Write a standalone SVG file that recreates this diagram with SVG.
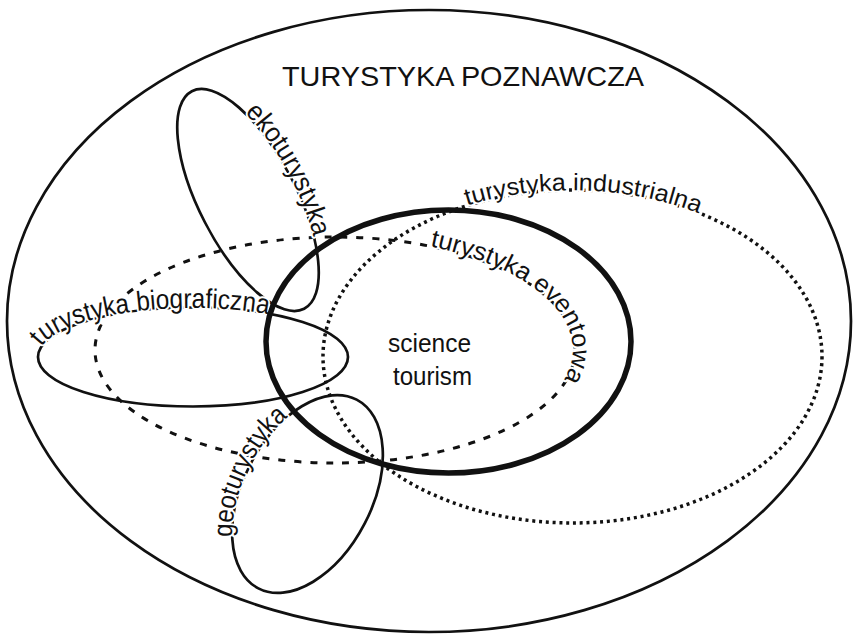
<svg xmlns="http://www.w3.org/2000/svg" xmlns:xlink="http://www.w3.org/1999/xlink" width="855" height="635" viewBox="0 0 855 635">
  <style>
    .ln { fill: none; stroke: #111; stroke-width: 2.7; }
    .thick { fill: none; stroke: #111; stroke-width: 5.5; }
    .dash { fill: none; stroke: #111; stroke-width: 3; stroke-dasharray: 7 9; }
    .dot { fill: none; stroke: #111; stroke-width: 3.5; stroke-dasharray: 3 3.8; }
    .lbl { font-family: "Liberation Sans", Arial, sans-serif; fill: #111; }
    .halo { stroke: #fff; stroke-width: 4; paint-order: stroke; stroke-linejoin: round; }
  </style>
  <defs>
    <path id="p-bio" d="M -151.61 -10.29 A 155 49.5 0 0 1 151.61 10.29 A 155 49.5 0 0 1 -151.61 -10.29"/>
    <path id="p-eko" d="M -78.68 -37.15 A 122.4 48.5 0 0 1 78.68 37.15 A 122.4 48.5 0 0 1 -78.68 -37.15"/>
    <path id="p-geo" d="M -72.56 -47.10 A 106.4 64.4 0 0 1 72.56 47.10 A 106.4 64.4 0 0 1 -72.56 -47.10"/>
    <path id="p-event" d="M 94.92 -103.78 A 240 113 0 0 1 -94.92 103.78 A 240 113 0 0 1 94.92 -103.78"/>
    <path id="p-ind" d="M -105.44 -150.90 A 249.5 166.5 0 0 1 105.44 150.90 A 249.5 166.5 0 0 1 -105.44 -150.90"/>
  </defs>
  <rect width="855" height="635" fill="#fff"/>

  <g id="poznawcza">
    <ellipse class="ln" cx="429" cy="321" rx="422" ry="311"/>
    <text class="lbl" x="282" y="86" font-size="28.5" textLength="362" lengthAdjust="spacingAndGlyphs">TURYSTYKA POZNAWCZA</text>
  </g>

  <g id="industrialna" transform="translate(572.5 356.5)">
    <ellipse class="dot" cx="0" cy="0" rx="249.5" ry="166.5"/>
    <text class="lbl halo" font-size="24"><textPath xlink:href="#p-ind" href="#p-ind" textLength="236" lengthAdjust="spacingAndGlyphs">turystyka industrialna</textPath></text>
  </g>

  <g id="eventowa" transform="translate(335 350)">
    <ellipse class="dash" cx="0" cy="0" rx="240" ry="113"/>
    <text class="lbl halo" font-size="25"><textPath xlink:href="#p-event" href="#p-event" textLength="220" lengthAdjust="spacingAndGlyphs">turystyka eventowa</textPath></text>
  </g>

  <g id="ekoturystyka" transform="translate(248 200) rotate(62.7)">
    <ellipse class="ln" cx="0" cy="0" rx="122.4" ry="48.5"/>
    <text class="lbl halo" font-size="27"><textPath xlink:href="#p-eko" href="#p-eko" textLength="143" lengthAdjust="spacingAndGlyphs">ekoturystyka</textPath></text>
  </g>

  <g id="biograficzna" transform="translate(193 357)">
    <ellipse class="ln" cx="0" cy="0" rx="155" ry="49.5"/>
    <text class="lbl halo" font-size="27.5"><textPath xlink:href="#p-bio" href="#p-bio" textLength="236" lengthAdjust="spacingAndGlyphs">turystyka biograficzna</textPath></text>
  </g>

  <g id="geoturystyka" transform="translate(307.5 494) rotate(-62.5)">
    <ellipse class="ln" cx="0" cy="0" rx="106.4" ry="64.4"/>
    <text class="lbl halo" font-size="27"><textPath xlink:href="#p-geo" href="#p-geo" textLength="136" lengthAdjust="spacingAndGlyphs">geoturystyka</textPath></text>
  </g>

  <g id="science-tourism">
    <ellipse class="thick" cx="448.5" cy="341.5" rx="182.5" ry="131.5"/>
    <text class="lbl" x="388" y="352" font-size="26" textLength="83" lengthAdjust="spacingAndGlyphs">science</text>
    <text class="lbl" x="393" y="385" font-size="26" textLength="79" lengthAdjust="spacingAndGlyphs">tourism</text>
  </g>
</svg>
